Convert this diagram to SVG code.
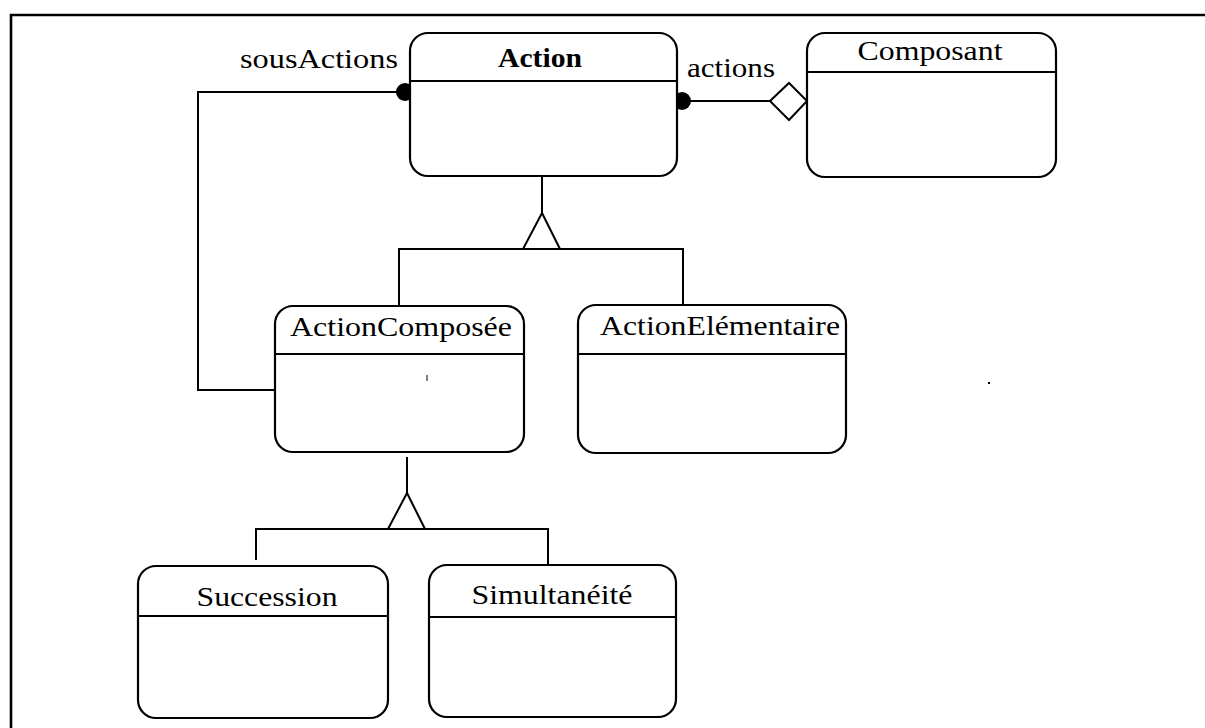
<svg xmlns="http://www.w3.org/2000/svg" width="1205" height="728" viewBox="0 0 1205 728">
<style>
.box{fill:#fff;stroke:#000;stroke-width:2.2}
.div{stroke:#000;stroke-width:2}
.ln{fill:none;stroke:#000;stroke-width:2}
.t{font-family:"Liberation Serif","Times New Roman",serif;font-size:28px;fill:#000}
.b{font-weight:bold}
</style>
<rect width="1205" height="728" fill="#fff"/>
<path d="M11,740 V15 H1215" fill="none" stroke="#000" stroke-width="2.6"/>
<g id="connectors">
  <path class="ln" d="M404,92 H198 V390 H275"/>
  <path class="ln" d="M677,101 H770"/>
  <polygon points="770,101 789,83 807,101 789,120" fill="#fff" stroke="#000" stroke-width="2"/>
  <circle cx="405" cy="92" r="9" fill="#000"/>
  <circle cx="682" cy="101" r="9" fill="#000"/>
  <path class="ln" d="M542,176 V213"/>
  <polygon points="542,213 523,249 560,249" fill="#fff" stroke="#000" stroke-width="2"/>
  <path class="ln" d="M399,306 V249 H683 V305"/>
  <path class="ln" d="M407,457 V493"/>
  <polygon points="407,493 388,529 425,529" fill="#fff" stroke="#000" stroke-width="2"/>
  <path class="ln" d="M256,560 V529 H548 V565"/>
</g>
<g id="Action">
  <rect class="box" x="410" y="33" width="267" height="143" rx="18"/>
  <line class="div" x1="410" y1="81" x2="677" y2="81"/>
  <text class="t b" x="540" y="67" text-anchor="middle" textLength="84" lengthAdjust="spacingAndGlyphs">Action</text>
</g>
<g id="Composant">
  <rect class="box" x="807" y="33" width="249" height="144" rx="18"/>
  <line class="div" x1="807" y1="72" x2="1056" y2="72"/>
  <text class="t" x="930" y="60" text-anchor="middle" textLength="145" lengthAdjust="spacingAndGlyphs">Composant</text>
</g>
<g id="ActionComposee">
  <rect class="box" x="275" y="306" width="249" height="146" rx="18"/>
  <line class="div" x1="275" y1="354" x2="524" y2="354"/>
  <text class="t" x="401" y="336" text-anchor="middle" textLength="222" lengthAdjust="spacingAndGlyphs">ActionComposée</text>
</g>
<g id="ActionElementaire">
  <rect class="box" x="578" y="305" width="268" height="148" rx="18"/>
  <line class="div" x1="578" y1="354" x2="846" y2="354"/>
  <text class="t" x="720" y="335" text-anchor="middle" textLength="240" lengthAdjust="spacingAndGlyphs">ActionElémentaire</text>
</g>
<g id="Succession">
  <rect class="box" x="138" y="566" width="250" height="152" rx="18"/>
  <line class="div" x1="138" y1="616" x2="388" y2="616"/>
  <text class="t" x="267" y="606" text-anchor="middle" textLength="141" lengthAdjust="spacingAndGlyphs">Succession</text>
</g>
<g id="Simultaneite">
  <rect class="box" x="429" y="565" width="247" height="152" rx="18"/>
  <line class="div" x1="429" y1="617" x2="676" y2="617"/>
  <text class="t" x="552" y="604" text-anchor="middle" textLength="161" lengthAdjust="spacingAndGlyphs">Simultanéité</text>
</g>
<g id="labels">
  <text class="t" x="240" y="68" textLength="158" lengthAdjust="spacingAndGlyphs">sousActions</text>
  <text class="t" x="687" y="77" textLength="88" lengthAdjust="spacingAndGlyphs">actions</text>
</g>
<line x1="427" y1="375" x2="427" y2="381" stroke="#000" stroke-width="1"/>
<rect x="988" y="382" width="2" height="2" fill="#000"/>
</svg>
